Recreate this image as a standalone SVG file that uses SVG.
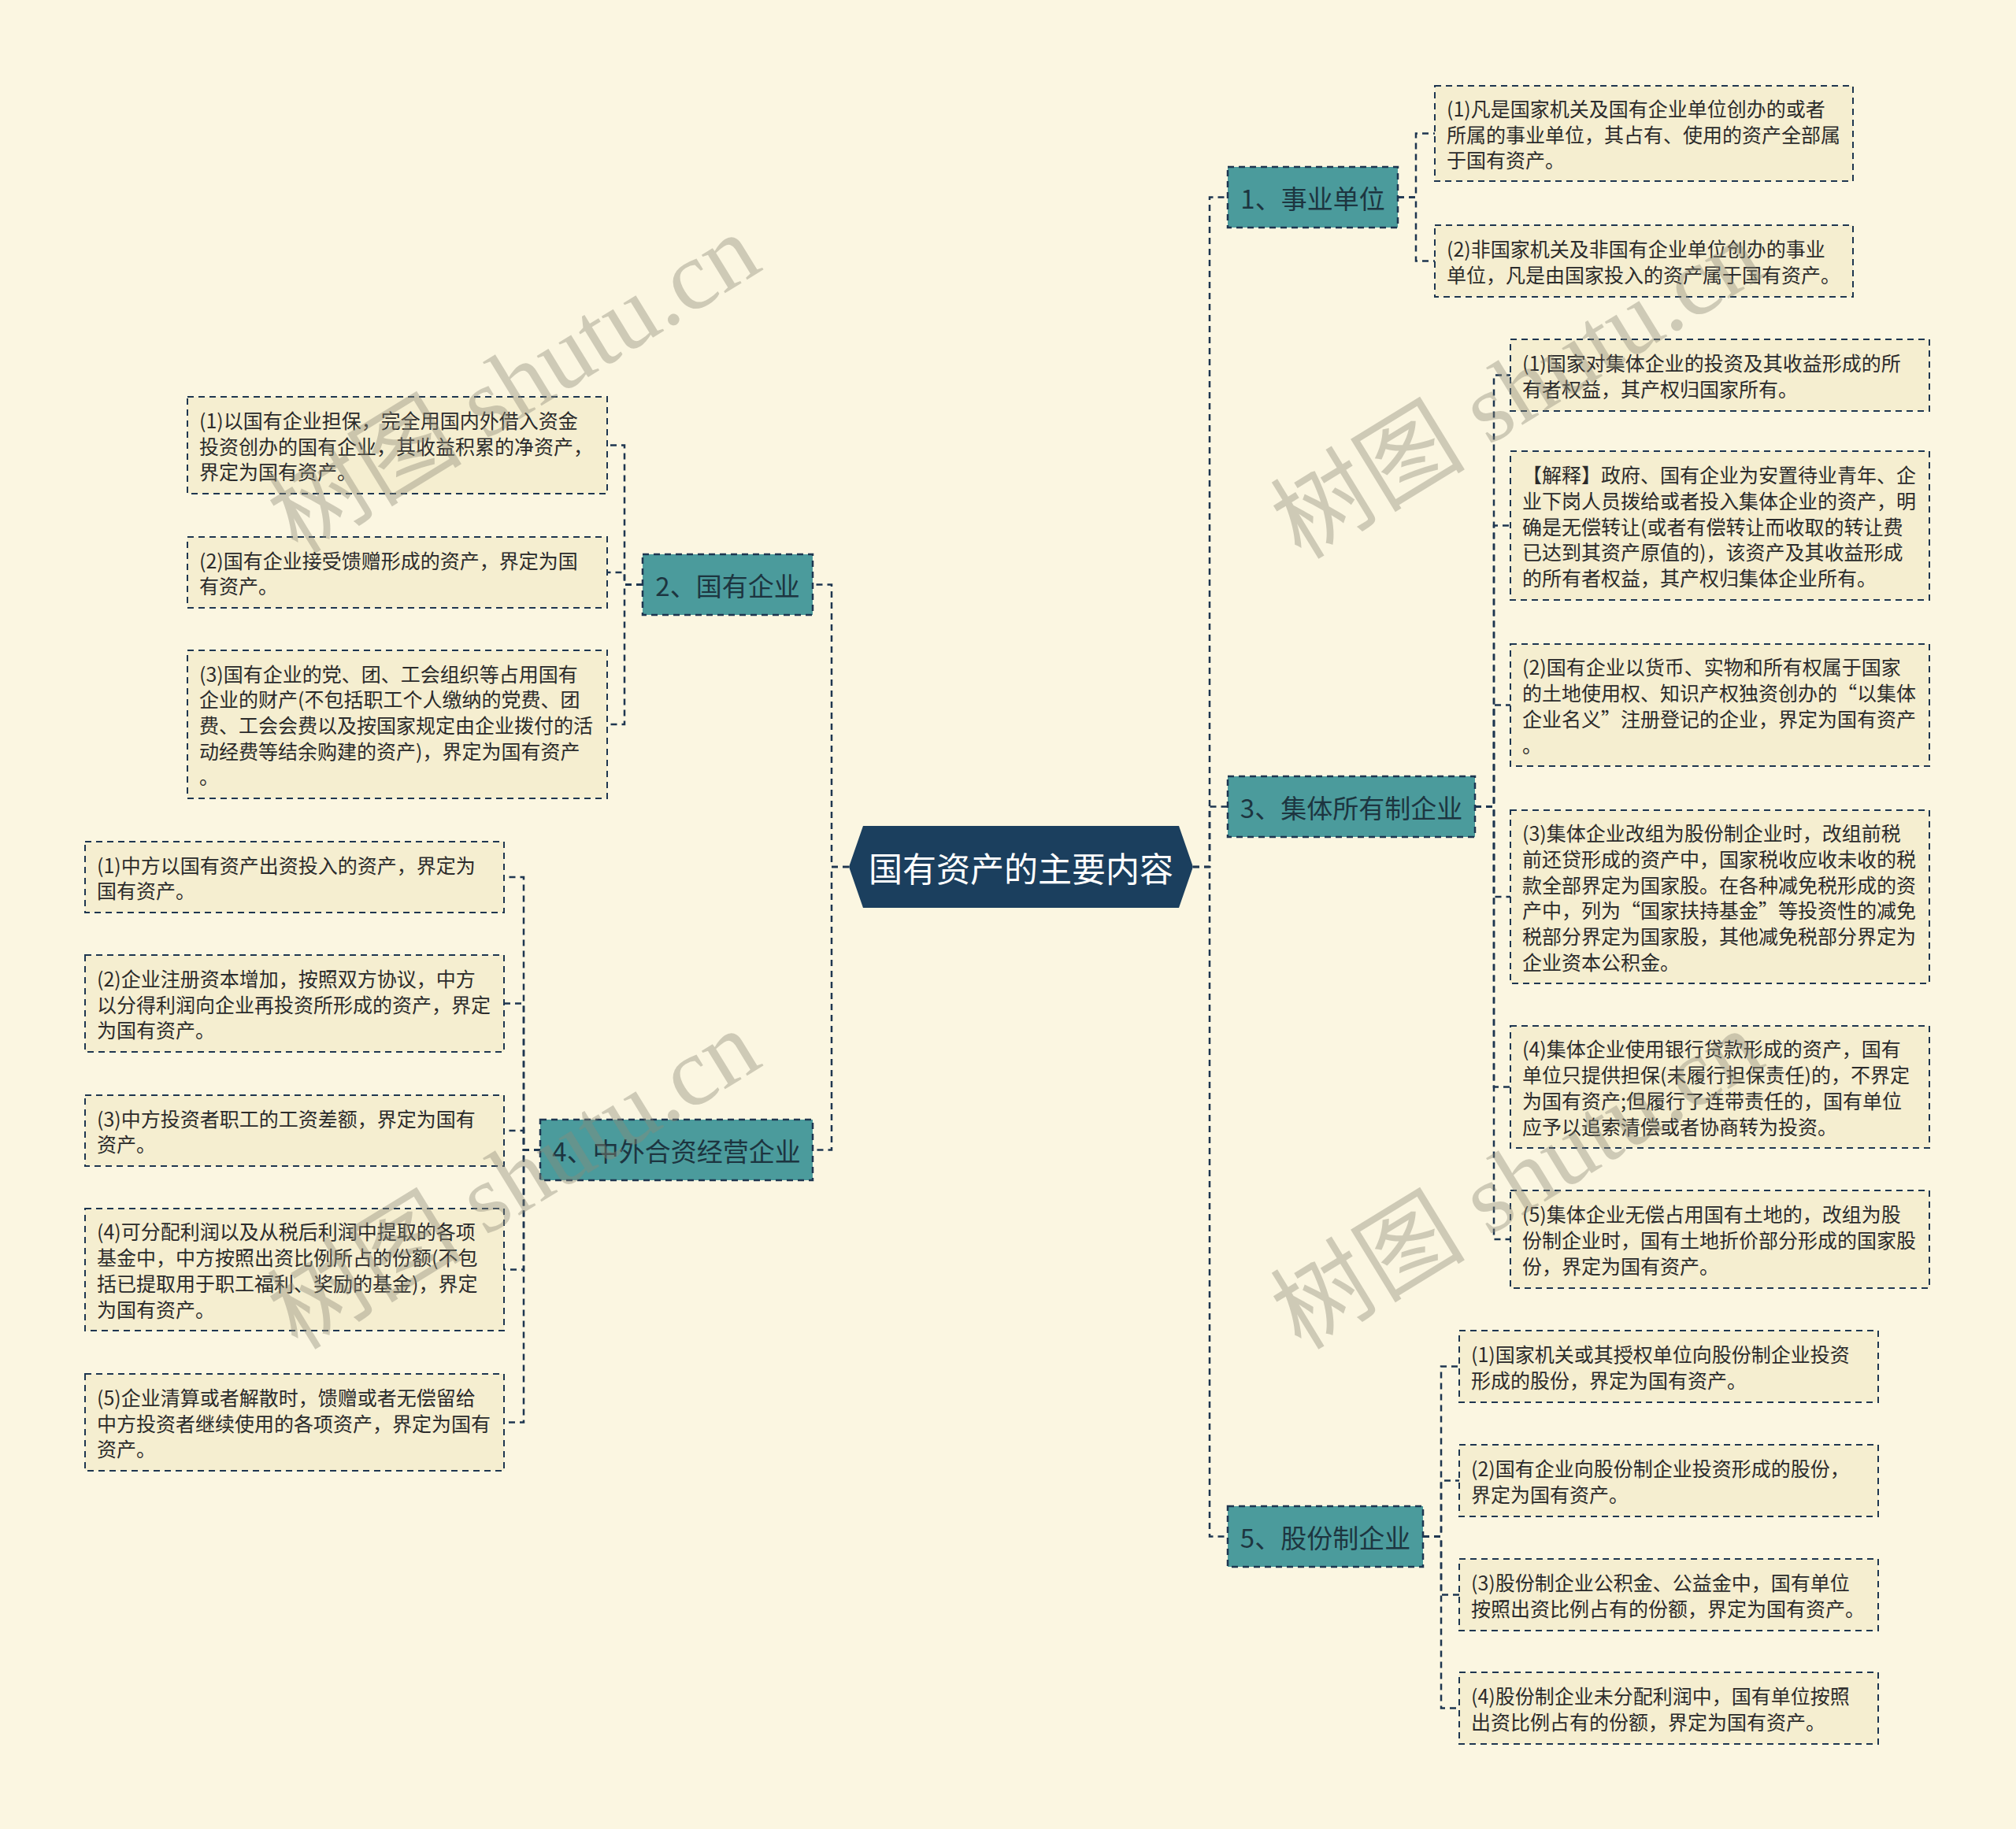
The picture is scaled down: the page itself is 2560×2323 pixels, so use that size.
<svg xmlns="http://www.w3.org/2000/svg" width="2560" height="2323" viewBox="0 0 2560 2323">
<style>
.bg{fill:#fbf6e1}
.leaf{fill:#f5eed0;stroke:#1e3650;stroke-width:2;stroke-dasharray:8 6}
.br{fill:#4b9b9c;stroke:#1e3650;stroke-width:2.5;stroke-dasharray:8 6}
.ctr{fill:#1b3f5e}
.lt{font-family:"Noto Sans CJK SC","Noto Sans",sans-serif;font-size:25px;fill:#2b2b2b;dominant-baseline:central}
.bt{font-family:"Noto Sans CJK SC","Noto Sans",sans-serif;font-size:33px;fill:#1d3540;text-anchor:middle;dominant-baseline:central}
.ct{font-family:"Noto Sans CJK SC","Noto Sans",sans-serif;font-size:43px;fill:#ffffff;text-anchor:middle;dominant-baseline:central}
.con{fill:none;stroke:#1e3650;stroke-width:2.5;stroke-dasharray:8 6}
.wm{font-family:"Liberation Serif","Noto Sans CJK SC",serif;font-size:124px;fill:#8d8a78;opacity:0.4}
</style>
<rect class="bg" x="0" y="0" width="2560" height="2323"/>
<g id="connectors">
<path class="con" d="M1515,1101 H1536 V250.5 H1559"/>
<path class="con" d="M1515,1101 H1536 V1024.5 H1559"/>
<path class="con" d="M1515,1101 H1536 V1951.5 H1559"/>
<path class="con" d="M1078,1101 H1056 V742.5 H1032"/>
<path class="con" d="M1078,1101 H1056 V1460.5 H1032"/>
<path class="con" d="M1775,250.5 H1798 V169.5 H1822"/>
<path class="con" d="M1775,250.5 H1798 V331.5 H1822"/>
<path class="con" d="M1873,1024.5 H1897 V476.5 H1918"/>
<path class="con" d="M1873,1024.5 H1897 V667.5 H1918"/>
<path class="con" d="M1873,1024.5 H1897 V895.5 H1918"/>
<path class="con" d="M1873,1024.5 H1897 V1139 H1918"/>
<path class="con" d="M1873,1024.5 H1897 V1380.5 H1918"/>
<path class="con" d="M1873,1024.5 H1897 V1574 H1918"/>
<path class="con" d="M1807,1951.5 H1830 V1735.5 H1853"/>
<path class="con" d="M1807,1951.5 H1830 V1880.5 H1853"/>
<path class="con" d="M1807,1951.5 H1830 V2025.5 H1853"/>
<path class="con" d="M1807,1951.5 H1830 V2169.5 H1853"/>
<path class="con" d="M816,742.5 H793 V565.5 H771"/>
<path class="con" d="M816,742.5 H793 V727 H771"/>
<path class="con" d="M816,742.5 H793 V920 H771"/>
<path class="con" d="M686,1460.5 H665 V1114 H640"/>
<path class="con" d="M686,1460.5 H665 V1274.5 H640"/>
<path class="con" d="M686,1460.5 H665 V1436 H640"/>
<path class="con" d="M686,1460.5 H665 V1612.5 H640"/>
<path class="con" d="M686,1460.5 H665 V1806.5 H640"/>
</g>
<g id="root">
<polygon class="ctr" points="1078,1101 1096,1049 1497,1049 1515,1101 1497,1153 1096,1153"/>
<text class="ct" x="1296.5" y="1101">国有资产的主要内容</text>
</g>
<g id="n1">
<rect class="br" x="1559" y="212" width="216" height="77"/>
<text class="bt" x="1667" y="250.5">1、事业单位</text>
</g>
<g id="n3">
<rect class="br" x="1559" y="986" width="314" height="77"/>
<text class="bt" x="1716" y="1024.5">3、集体所有制企业</text>
</g>
<g id="n5">
<rect class="br" x="1559" y="1913" width="248" height="77"/>
<text class="bt" x="1683" y="1951.5">5、股份制企业</text>
</g>
<g id="n2">
<rect class="br" x="816" y="704" width="216" height="77"/>
<text class="bt" x="924" y="742.5">2、国有企业</text>
</g>
<g id="n4">
<rect class="br" x="686" y="1422" width="346" height="77"/>
<text class="bt" x="859" y="1460.5">4、中外合资经营企业</text>
</g>
<g id="l1a">
<rect class="leaf" x="1822" y="109" width="531" height="121"/>
<text class="lt" x="1837" y="136.8"><tspan x="1837">(1)凡是国家机关及国有企业单位创办的或者</tspan><tspan x="1837" dy="32.7">所属的事业单位，其占有、使用的资产全部属</tspan><tspan x="1837" dy="32.7">于国有资产。</tspan></text>
</g>
<g id="l1b">
<rect class="leaf" x="1822" y="286" width="531" height="91"/>
<text class="lt" x="1837" y="315.15"><tspan x="1837">(2)非国家机关及非国有企业单位创办的事业</tspan><tspan x="1837" dy="32.7">单位，凡是由国家投入的资产属于国有资产。</tspan></text>
</g>
<g id="l3a">
<rect class="leaf" x="1918" y="431" width="532" height="91"/>
<text class="lt" x="1933" y="460.15"><tspan x="1933">(1)国家对集体企业的投资及其收益形成的所</tspan><tspan x="1933" dy="32.7">有者权益，其产权归国家所有。</tspan></text>
</g>
<g id="l3b">
<rect class="leaf" x="1918" y="573" width="532" height="189"/>
<text class="lt" x="1933" y="602.1"><tspan x="1933">【解释】政府、国有企业为安置待业青年、企</tspan><tspan x="1933" dy="32.7">业下岗人员拨给或者投入集体企业的资产，明</tspan><tspan x="1933" dy="32.7">确是无偿转让(或者有偿转让而收取的转让费</tspan><tspan x="1933" dy="32.7">已达到其资产原值的)，该资产及其收益形成</tspan><tspan x="1933" dy="32.7">的所有者权益，其产权归集体企业所有。</tspan></text>
</g>
<g id="l3c">
<rect class="leaf" x="1918" y="818" width="532" height="155"/>
<text class="lt" x="1933" y="846.45"><tspan x="1933">(2)国有企业以货币、实物和所有权属于国家</tspan><tspan x="1933" dy="32.7">的土地使用权、知识产权独资创办的“以集体</tspan><tspan x="1933" dy="32.7">企业名义”注册登记的企业，界定为国有资产</tspan><tspan x="1933" dy="32.7">。</tspan></text>
</g>
<g id="l3d">
<rect class="leaf" x="1918" y="1029" width="532" height="220"/>
<text class="lt" x="1933" y="1057.25"><tspan x="1933">(3)集体企业改组为股份制企业时，改组前税</tspan><tspan x="1933" dy="32.7">前还贷形成的资产中，国家税收应收未收的税</tspan><tspan x="1933" dy="32.7">款全部界定为国家股。在各种减免税形成的资</tspan><tspan x="1933" dy="32.7">产中，列为“国家扶持基金”等投资性的减免</tspan><tspan x="1933" dy="32.7">税部分界定为国家股，其他减免税部分界定为</tspan><tspan x="1933" dy="32.7">企业资本公积金。</tspan></text>
</g>
<g id="l3e">
<rect class="leaf" x="1918" y="1303" width="532" height="155"/>
<text class="lt" x="1933" y="1331.45"><tspan x="1933">(4)集体企业使用银行贷款形成的资产，国有</tspan><tspan x="1933" dy="32.7">单位只提供担保(未履行担保责任)的，不界定</tspan><tspan x="1933" dy="32.7">为国有资产;但履行了连带责任的，国有单位</tspan><tspan x="1933" dy="32.7">应予以追索清偿或者协商转为投资。</tspan></text>
</g>
<g id="l3f">
<rect class="leaf" x="1918" y="1512" width="532" height="124"/>
<text class="lt" x="1933" y="1541.3"><tspan x="1933">(5)集体企业无偿占用国有土地的，改组为股</tspan><tspan x="1933" dy="32.7">份制企业时，国有土地折价部分形成的国家股</tspan><tspan x="1933" dy="32.7">份，界定为国有资产。</tspan></text>
</g>
<g id="l5a">
<rect class="leaf" x="1853" y="1690" width="532" height="91"/>
<text class="lt" x="1868" y="1719.15"><tspan x="1868">(1)国家机关或其授权单位向股份制企业投资</tspan><tspan x="1868" dy="32.7">形成的股份，界定为国有资产。</tspan></text>
</g>
<g id="l5b">
<rect class="leaf" x="1853" y="1835" width="532" height="91"/>
<text class="lt" x="1868" y="1864.15"><tspan x="1868">(2)国有企业向股份制企业投资形成的股份，</tspan><tspan x="1868" dy="32.7">界定为国有资产。</tspan></text>
</g>
<g id="l5c">
<rect class="leaf" x="1853" y="1980" width="532" height="91"/>
<text class="lt" x="1868" y="2009.15"><tspan x="1868">(3)股份制企业公积金、公益金中，国有单位</tspan><tspan x="1868" dy="32.7">按照出资比例占有的份额，界定为国有资产。</tspan></text>
</g>
<g id="l5d">
<rect class="leaf" x="1853" y="2124" width="532" height="91"/>
<text class="lt" x="1868" y="2153.15"><tspan x="1868">(4)股份制企业未分配利润中，国有单位按照</tspan><tspan x="1868" dy="32.7">出资比例占有的份额，界定为国有资产。</tspan></text>
</g>
<g id="l2a">
<rect class="leaf" x="238" y="504" width="533" height="123"/>
<text class="lt" x="253" y="532.8"><tspan x="253">(1)以国有企业担保，完全用国内外借入资金</tspan><tspan x="253" dy="32.7">投资创办的国有企业，其收益积累的净资产，</tspan><tspan x="253" dy="32.7">界定为国有资产。</tspan></text>
</g>
<g id="l2b">
<rect class="leaf" x="238" y="682" width="533" height="90"/>
<text class="lt" x="253" y="710.65"><tspan x="253">(2)国有企业接受馈赠形成的资产，界定为国</tspan><tspan x="253" dy="32.7">有资产。</tspan></text>
</g>
<g id="l2c">
<rect class="leaf" x="238" y="826" width="533" height="188"/>
<text class="lt" x="253" y="854.6"><tspan x="253">(3)国有企业的党、团、工会组织等占用国有</tspan><tspan x="253" dy="32.7">企业的财产(不包括职工个人缴纳的党费、团</tspan><tspan x="253" dy="32.7">费、工会会费以及按国家规定由企业拨付的活</tspan><tspan x="253" dy="32.7">动经费等结余购建的资产)，界定为国有资产</tspan><tspan x="253" dy="32.7">。</tspan></text>
</g>
<g id="l4a">
<rect class="leaf" x="108" y="1069" width="532" height="90"/>
<text class="lt" x="123" y="1097.65"><tspan x="123">(1)中方以国有资产出资投入的资产，界定为</tspan><tspan x="123" dy="32.7">国有资产。</tspan></text>
</g>
<g id="l4b">
<rect class="leaf" x="108" y="1213" width="532" height="123"/>
<text class="lt" x="123" y="1241.8"><tspan x="123">(2)企业注册资本增加，按照双方协议，中方</tspan><tspan x="123" dy="32.7">以分得利润向企业再投资所形成的资产，界定</tspan><tspan x="123" dy="32.7">为国有资产。</tspan></text>
</g>
<g id="l4c">
<rect class="leaf" x="108" y="1391" width="532" height="90"/>
<text class="lt" x="123" y="1419.65"><tspan x="123">(3)中方投资者职工的工资差额，界定为国有</tspan><tspan x="123" dy="32.7">资产。</tspan></text>
</g>
<g id="l4d">
<rect class="leaf" x="108" y="1535" width="532" height="155"/>
<text class="lt" x="123" y="1563.45"><tspan x="123">(4)可分配利润以及从税后利润中提取的各项</tspan><tspan x="123" dy="32.7">基金中，中方按照出资比例所占的份额(不包</tspan><tspan x="123" dy="32.7">括已提取用于职工福利、奖励的基金)，界定</tspan><tspan x="123" dy="32.7">为国有资产。</tspan></text>
</g>
<g id="l4e">
<rect class="leaf" x="108" y="1745" width="532" height="123"/>
<text class="lt" x="123" y="1773.8"><tspan x="123">(5)企业清算或者解散时，馈赠或者无偿留给</tspan><tspan x="123" dy="32.7">中方投资者继续使用的各项资产，界定为国有</tspan><tspan x="123" dy="32.7">资产。</tspan></text>
</g>
<g id="watermarks">
<text class="wm" transform="translate(378,705) rotate(-31.5)">树图 shutu.cn</text>
<text class="wm" transform="translate(378,1716) rotate(-31.5)">树图 shutu.cn</text>
<text class="wm" transform="translate(1652,712) rotate(-31.5)">树图 shutu.cn</text>
<text class="wm" transform="translate(1652,1716) rotate(-31.5)">树图 shutu.cn</text>
</g>
</svg>
